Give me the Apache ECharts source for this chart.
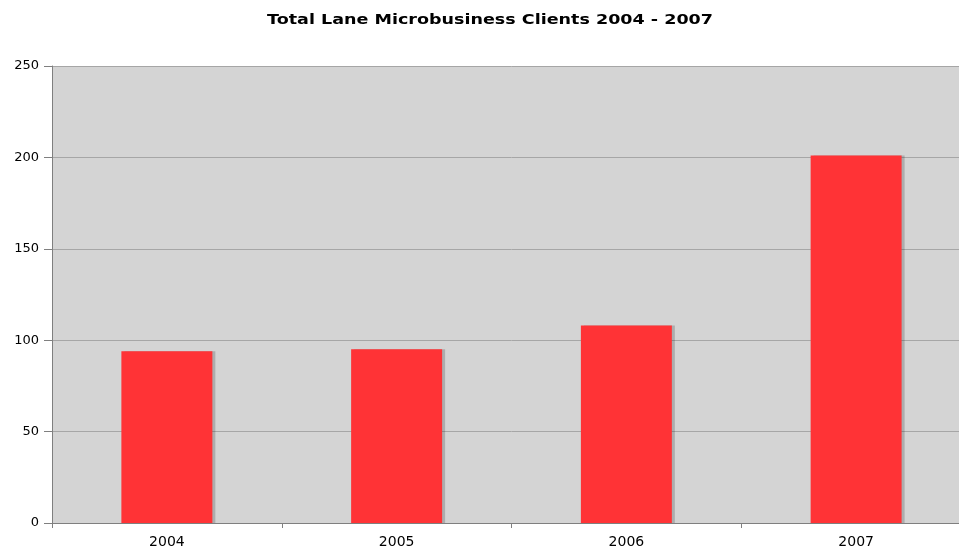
<!DOCTYPE html>
<html><head><meta charset="utf-8">
<script src="https://cdn.jsdelivr.net/npm/echarts@6/dist/echarts.min.js"></script>
<style>html,body{margin:0;padding:0;background:#fff;overflow:hidden;width:959px;height:550px}#c{width:971px;height:550px}</style>
</head><body><div id="c"></div>
<script>
var titleText = 'Total Lane Microbusiness Clients 2004 - 2007';
var categories = ['2004', '2005', '2006', '2007'];
var clients = [94, 95, 108, 201];
var yTicks = [0, 50, 100, 150, 200, 250];
var chart = echarts.init(document.getElementById('c'), null, {renderer: 'canvas'});
var titleFont = 'bold 14.5px "DejaVu Sans"';
var w = echarts.format.getTextRect ? echarts.format.getTextRect(titleText, titleFont).width : 370;
var sx = 446 / w;
chart.setOption({
  animation: false,
  backgroundColor: '#ffffff',
  graphic: [{
    type: 'text', x: 490, y: 20, scaleX: sx, scaleY: 1,
    style: {text: titleText, font: titleFont, fill: '#000', textAlign: 'center', textVerticalAlign: 'middle'}
  }],
  grid: {left: 52, right: 0, top: 66, bottom: 27, show: true, backgroundColor: '#d4d4d4', borderWidth: 0},
  xAxis: {
    type: 'category', data: categories,
    axisLine: {lineStyle: {color: '#7f7f7f', width: 1}},
    axisTick: {show: true, length: 5, lineStyle: {color: '#7f7f7f'}},
    axisLabel: {fontFamily: 'DejaVu Sans', fontSize: 14, color: '#000', margin: 12}
  },
  yAxis: {
    type: 'value', min: yTicks[0], max: yTicks[yTicks.length - 1], interval: 50,
    axisLine: {show: true, lineStyle: {color: '#7f7f7f', width: 1}},
    axisTick: {show: true, length: 8, lineStyle: {color: '#7f7f7f'}},
    axisLabel: {fontFamily: 'DejaVu Sans', fontSize: 13, color: '#000', margin: 13},
    splitLine: {lineStyle: {color: '#a6a6a6', width: 1}}
  },
  series: [{
    type: 'bar', data: clients, barWidth: '39.6%',
    itemStyle: {color: '#ff3336', shadowColor: 'rgba(0,0,0,0.18)', shadowOffsetX: 3, shadowOffsetY: 0, shadowBlur: 0}
  }]
});
</script></body></html>
